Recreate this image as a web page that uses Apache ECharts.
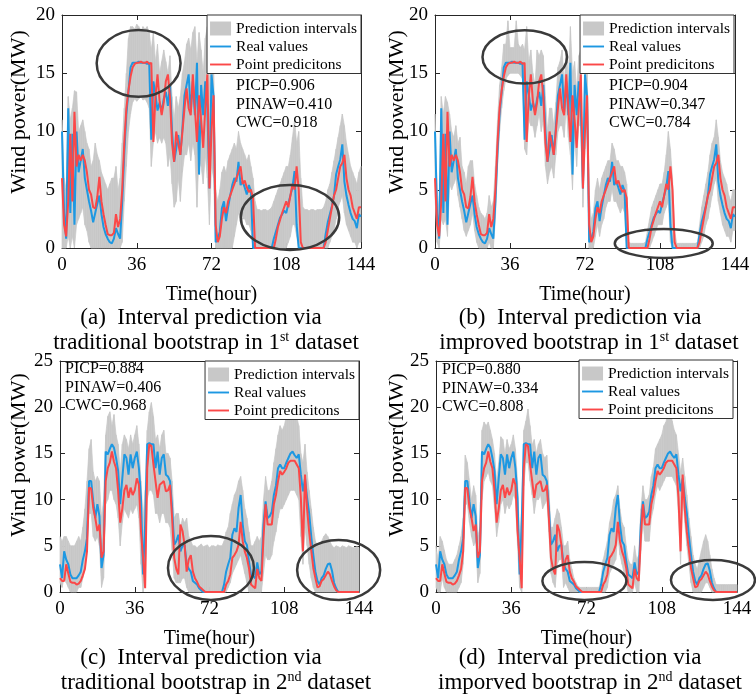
<!DOCTYPE html>
<html><head><meta charset="utf-8">
<script src="https://cdn.jsdelivr.net/npm/echarts@6/dist/echarts.min.js"></script>
<style>html,body{margin:0;padding:0;background:#fff}#c{width:756px;height:700px}</style>
</head><body><div id="c"></div>
<script>
// ---------- data (hour 0..144) ----------
const REAL_1 = [
10, 3, 0.8, 12, 3, 9.8, 2, 10, 6.5, 7.5,
8.5, 6, 5, 4, 3.2, 2.2, 3, 3.8, 4.5, 2.9,
1.8, 1.2, 0.8, 0.5, 0.4, 0.8, 1.7, 1.2, 0.8, 4,
8.2, 11.5, 13.4, 15.5, 15.9, 15.9, 15.9, 16, 15.9, 15.9,
15.9, 15.8, 15.9, 9.3, 14.3, 13.2, 11.8, 12.5, 11.7, 12.8,
13.4, 12.2, 14, 10, 7.4, 8.5, 9.7, 8, 10.3, 13.1,
14, 14.9, 11.7, 14.3, 11.4, 15.9, 6.3, 14, 11.4, 14.3,
12, 5.1, 14.9, 13, 0.5, 0.8, 1.4, 3.4, 4, 2.3,
3.5, 4.5, 5.4, 6, 5.7, 7.4, 5.4, 5.7, 5.2, 4.6,
5.4, 4.9, 0, 0, 0, 0, 0, 0, 0, 0,
0, 0, 0.8, 1.4, 2, 2.6, 2.9, 3.2, 3, 3.8,
4.5, 5.2, 6.6, 2, 0, 0, 0, 0, 0, 0,
0, 0, 0, 0, 0, 0, 0, 1.2, 2.2, 2.9,
3.6, 4.5, 6.3, 7, 7.6, 8.9, 5.7, 4.5, 3.7, 3,
2.5, 2.3, 1.7, 2.9, 2.7];
const PRED_1 = [
6, 2, 1, 4, 9.8, 4, 11.7, 7, 8, 7.5,
8, 7.5, 6.5, 5, 4.6, 3.5, 3.4, 4.4, 6.1, 4,
2.9, 2, 1.2, 1.1, 1.1, 1.3, 2.9, 1.8, 2.5, 5,
9, 12, 13.5, 14.7, 15.5, 15.8, 15.9, 15.9, 16, 15.9,
15.9, 16, 15.8, 15.9, 9.1, 13, 14.9, 12.6, 11.4, 12.5,
14.3, 14.9, 13, 9, 7.4, 10, 9, 8, 10, 12,
13.7, 12, 11.4, 14.9, 12, 9.1, 13.1, 11, 8.6, 12,
14.9, 5.1, 10, 13.1, 2, 0.5, 1, 2.5, 3.5, 3,
4, 4.5, 5, 5.5, 6, 6.5, 7, 5.5, 5.8, 5.2,
4.8, 5, 4.3, 0, 0, 0, 0, 0, 0, 0,
0, 0, 0, 0.8, 1.8, 2.4, 3, 3.5, 4, 3.5,
4.5, 5.5, 5, 7, 5, 0.5, 0, 0, 0, 0,
0, 0, 0, 0, 0, 0, 0, 0.5, 1.5, 2.5,
3.5, 4.5, 5, 6, 7, 7.3, 8, 6, 5, 4.5,
3.5, 3, 2.5, 3.5, 3.5];
const HI_A = [
11, 6, 5, 13, 11, 12, 13.5, 13.4, 10, 10.5,
11, 10, 9, 8.5, 7, 7.5, 9, 8, 7.5, 6.5,
6, 5.5, 5, 5.5, 6, 6, 7, 5, 6, 9,
12, 15, 18, 19, 19, 18.8, 19.2, 19, 18.6, 19,
18.8, 19, 18.5, 17, 18.5, 16, 17.5, 15, 16, 17,
16, 15, 16.5, 13, 11, 13, 12, 13, 15, 16,
17.5, 18, 17, 18.5, 19, 16, 18.5, 17, 15, 18,
19, 14, 18, 16, 5, 4, 5, 6.5, 7, 6.5,
7.5, 8, 8.5, 9, 8.5, 10, 9, 8.5, 8, 7.5,
8, 7, 6, 4, 3.3, 3.3, 3.2, 3.3, 3.3, 3.2,
3.3, 3.5, 4, 4.5, 5, 5.5, 6, 6.5, 7, 7,
8, 9.5, 11, 9, 10, 6, 3.5, 3.3, 3.3, 3.2,
3.3, 3.3, 3.2, 3.3, 3.3, 3.3, 3.5, 4, 5, 5.5,
6.5, 7.5, 8.5, 9.5, 10.5, 11.5, 10.5, 9, 8, 7,
6.5, 6, 5.5, 6.5, 7];
const LO_A = [
0, 0, 0, 1, 0, 1, 0, 2, 2.5, 3,
3.5, 2, 1.5, 0.5, 0, 0, 0, 0, 0, 0,
0, 0, 0, 0, 0, 0, 0, 0, 0, 0.5,
4, 7, 10, 11.5, 12.5, 12.8, 12.6, 12.8, 13, 12.7,
12.8, 12.5, 12, 7, 9, 10, 9, 9.5, 9, 9.5,
9, 7, 8, 5.5, 3.5, 4, 6, 4, 6.5, 8,
8, 9, 7.5, 9, 8, 3.5, 8, 7, 5.5, 8,
6, 2, 7, 6, 0, 0, 0, 0, 0, 0,
0, 0, 0, 1, 2, 3, 2.5, 2.5, 2.5, 2,
2, 1.5, 0, 0, 0, 0, 0, 0, 0, 0,
0, 0, 0, 0, 0, 0, 0, 0, 0, 0.5,
1, 2, 2, 1, 0, 0, 0, 0, 0, 0,
0, 0, 0, 0, 0, 0, 0, 0, 0, 0.5,
1, 1.5, 2.5, 3.5, 4, 4.5, 3, 2, 1.5, 1,
0.5, 0.5, 0, 0.5, 0.5];
const HI_B = [
11.5, 5, 3, 13, 11.5, 13, 12.5, 11.5, 10, 9.5,
10.5, 9, 9.5, 7, 6.5, 5.5, 7, 7.5, 7.5, 5.5,
4.5, 3.5, 3, 2.8, 2.5, 3, 4.5, 3.5, 4, 7,
11, 14, 15.5, 17.5, 17.5, 19.5, 17.2, 17.2, 17.2, 19.5,
17.5, 17.2, 17.5, 17, 19, 16, 17, 15, 14, 17,
16.5, 17, 16.5, 13, 10, 12, 12, 10.5, 12.5, 15.5,
16, 17, 14, 17, 14.5, 19, 15, 16, 13.5, 16.5,
17, 7.5, 16.5, 16, 4.5, 2.5, 3, 5, 6, 5,
6, 6.5, 7, 7.5, 7.5, 9, 8.5, 7.5, 7.5, 7,
7, 6.5, 5.5, 0.5, 0.4, 0.4, 0.4, 0.4, 0.4, 0.4,
0.4, 0.5, 1.5, 2.5, 3.5, 4, 4.5, 5, 5.5, 5.5,
6.5, 8, 10, 8.5, 6, 1.5, 0.4, 0.4, 0.4, 0.4,
0.4, 0.4, 0.4, 0.4, 0.4, 0.4, 0.5, 2, 3.5, 4.5,
5.5, 6.5, 8, 9, 9.5, 11, 9.5, 7.5, 6.5, 6,
5.5, 4.5, 4, 5, 5];
const LO_B = [
4.5, 0.5, 0, 2.5, 2, 2.5, 1, 5.5, 5, 5.5,
6, 4.5, 3.5, 2.5, 1.5, 1, 1.5, 2, 3, 1.5,
0.5, 0, 0, 0, 0, 0, 0.5, 0, 0, 2.5,
7, 10, 12, 13.5, 14.5, 14.8, 15, 15, 15, 15,
15, 14.8, 14.5, 8.5, 8, 11, 10.5, 10.5, 9.5, 10.5,
11.5, 10, 11, 7, 5.5, 6.5, 7, 6, 8, 10,
10.5, 10.5, 9.5, 12, 9.5, 8, 5, 9.5, 7, 10.5,
10.5, 3.5, 8.5, 11, 0, 0, 0, 1, 2, 1,
2, 2.5, 3.5, 4, 4, 5, 4, 4, 3.5, 3,
3.5, 3, 0, 0, 0, 0, 0, 0, 0, 0,
0, 0, 0, 0, 0.5, 1, 1.5, 2, 2, 2,
3, 3.5, 4, 0.5, 0, 0, 0, 0, 0, 0,
0, 0, 0, 0, 0, 0, 0, 0, 0.5, 1,
2, 2.5, 3.5, 4.5, 5.5, 6, 4, 3, 2, 1.5,
1, 1, 0.5, 1.5, 1.5];
const REAL_2 = [
3, 1.5, 4.4, 3.5, 3, 1.9, 1.5, 1.5, 1.5, 1.8,
2.2, 3.5, 4.4, 5.8, 12, 12, 9.8, 8, 9.5, 8.2,
2.6, 4, 15.2, 14.9, 15.5, 16, 15.6, 14.5, 13.1, 9.5,
12.3, 14.9, 14.5, 12.7, 14.9, 13.4, 14.5, 15.2, 13.4, 10.2,
1.9, 7.3, 16, 16.1, 16, 16, 13.4, 15.2, 12.7, 14.5,
14.9, 12.7, 12.5, 12, 9.1, 5.1, 5.5, 6.2, 4.4, 5,
5.1, 3, 2.5, 2.2, 1.2, 1, 0.8, 0.4, 0.2, 0,
0, 0, 0, 0, 0, 0, 0, 0, 0, 0.8,
2.2, 3, 3.7, 6.2, 6.9, 6.5, 9.1, 10.5, 7.3, 5.5,
5.1, 3.3, 1.9, 1.7, 1.5, 3.2, 1.9, 2.2, 7.3, 9.8,
8, 8.2, 8.7, 10.5, 11.5, 13.4, 13.8, 13.4, 13.4, 14,
14.5, 15, 15.2, 14.8, 14.5, 14.9, 12.7, 10.9, 12.3, 10.2,
8.5, 6, 4, 2.2, 1.2, 0.8, 1.5, 1.8, 2.5, 3,
3.1, 2.3, 1, 0.4, 0, 0, 0, 0, 0, 0,
0, 0, 0, 0, 0];
const PRED_2 = [
1.5, 1.2, 1.2, 3, 2, 1.1, 1, 1, 0.8, 0.9,
1.2, 1.8, 2.5, 4.4, 11.3, 11.2, 9.1, 8, 6.6, 7.3,
3.7, 4.4, 12, 13.4, 14, 15.2, 14.1, 13.4, 10.9, 7.5,
9, 11, 11.6, 10.2, 11.3, 10.5, 11, 12.3, 11.6, 6.6,
3.7, 0.4, 13.4, 16, 15.8, 13.8, 12, 10.2, 11.6, 11.8,
12, 10.9, 11, 11.6, 8, 3.7, 2.5, 1.9, 7.3, 6.6,
5.1, 2.2, 3.5, 4, 2.2, 1.5, 1.1, 0.6, 0.4, 0.2,
0, 0, 0, 0, 0, 0, 0, 0, 0, 0,
0.8, 1.2, 1.9, 3.7, 4, 4.4, 5.1, 7.6, 5.5, 4.4,
3.7, 2.6, 0.8, 0.6, 0.4, 2.5, 1.5, 1.2, 5.9, 9.5,
7.3, 7.3, 7.3, 9.5, 10.5, 12, 13.1, 12.7, 13, 13.4,
14, 14.2, 14.2, 14.2, 13.8, 13.4, 10.2, 4.4, 12.7, 9,
6.5, 4.5, 2.6, 1.5, 0.5, 0.6, 1.2, 1.4, 1.8, 2.2,
1.9, 1.2, 0.6, 0.2, 0, 0, 0, 0, 0, 0,
0, 0, 0, 0, 0];
const HI_C = [
6, 5.5, 6, 6, 5.5, 5, 5, 5, 5.5, 6,
5.5, 7, 9, 12, 15.5, 16.5, 13, 12, 12.5, 12,
8, 10, 17, 19, 19.5, 18, 19.2, 17, 16, 13,
16, 17, 16.5, 15.5, 17, 16, 17, 18, 16, 12,
8, 11, 17.5, 19.5, 20.5, 19, 16.5, 17, 15.5, 17,
17.5, 15, 15, 14.5, 12, 8, 8.5, 8.5, 7, 8,
7.5, 8, 6, 5.5, 5, 5, 4.8, 5, 5.2, 4.9,
5, 5.1, 4.8, 5, 5, 4.9, 5.1, 5, 5, 5.5,
6.5, 7, 8.5, 9.5, 10.5, 11, 12, 12.5, 11, 9,
8, 6.5, 5, 5, 5.5, 6, 5.5, 6, 10, 12.5,
11, 11, 12, 14, 15.5, 17, 18, 17.5, 18, 19,
19.5, 20.5, 21, 20, 19, 18, 15, 14, 16, 13,
11, 9, 7, 5.5, 5, 5, 5.5, 6, 6.3, 6,
5.5, 5, 4.8, 5, 4.9, 4.8, 5, 4.9, 4.8, 5,
4.9, 4.8, 4.8, 4.9, 4.8];
const LO_C = [
1, 0.5, 1.5, 1, 0.5, 0, 0, 0, 0, 0.5,
0.5, 1.5, 2.5, 6, 8.5, 8.5, 6, 5.5, 6, 5,
0.5, 1.5, 9.5, 10, 11, 11, 10, 9.5, 8, 5,
7.5, 9, 8.5, 8, 9, 8.5, 9, 9.5, 8, 3,
0, 2, 10, 11, 11, 10.5, 8.5, 8.5, 7.5, 8.5,
8.5, 7.5, 7.5, 7, 4.5, 1.5, 1, 1, 1, 1.5,
1.5, 0.5, 0, 0, 0, 0, 0, 0, 0, 0,
0, 0, 0, 0, 0, 0, 0, 0, 0, 0,
0, 0.5, 1, 2, 2.5, 3, 3.5, 4, 3, 2,
1, 0, 0, 0, 0, 0, 0, 0, 2, 4,
3.5, 3.5, 4, 5.5, 6.5, 8, 9, 9, 9.5, 10,
10.5, 11, 11, 11, 10.5, 10, 6, 3, 7, 5,
3, 1.5, 0.5, 0, 0, 0, 0, 0, 0, 0,
0, 0, 0, 0, 0, 0, 0, 0, 0, 0,
0, 0, 0, 0, 0];
const HI_D = [
5, 3.5, 6, 5.5, 4.5, 3.5, 3, 3, 3, 3.5,
4, 5, 6, 8, 14.8, 14, 12, 10, 11.5, 10.5,
6, 7, 17.5, 18.4, 18, 18.4, 17.5, 16.5, 15, 12,
14, 16.8, 16.5, 15, 16.5, 15.5, 16, 17, 15.5, 12,
5.5, 9, 17.5, 18.5, 19.8, 18, 15.9, 16.5, 15, 16,
16.5, 15, 14.5, 14.8, 11, 7, 7, 8, 9, 8.5,
7, 5, 5, 5.5, 3.5, 2.5, 1.5, 1, 0.6, 0.5,
0.5, 0.5, 0.5, 0.5, 0.5, 0.5, 0.5, 0.5, 0.5, 1.5,
3.5, 4.5, 5.5, 7.5, 8.5, 10, 10.5, 11.5, 9, 7.5,
7, 5, 3.5, 3, 3, 5, 3.5, 4, 9, 11.5,
10, 10, 10.5, 12.5, 13.5, 15.5, 16, 16.5, 17, 18,
18.4, 19.5, 20, 18.5, 17.5, 17, 15, 13, 14.5, 12.5,
10.5, 8, 6, 4, 3, 2.5, 3.5, 4.5, 5.5, 6.2,
5.5, 4, 2.5, 1.5, 0.8, 0.8, 0.8, 0.8, 0.8, 0.8,
0.8, 0.8, 0.8, 0.8, 0.8];
const LO_D = [
0.5, 0, 0, 1.5, 0.5, 0, 0, 0, 0, 0,
0, 0.5, 1, 3, 9.5, 9.5, 7.5, 6, 5, 5.5,
1, 2, 10, 12, 12.5, 13, 12, 11.5, 9, 6,
7.5, 9.5, 10, 8.5, 9.5, 9, 9.5, 10.5, 10, 5,
0.5, 0, 11.5, 14, 14, 12, 10.5, 8.5, 10, 10,
10.5, 9, 9.5, 10, 6.5, 2, 1, 0.5, 3, 3.5,
3.5, 0.5, 1, 0.5, 0, 0, 0, 0, 0, 0,
0, 0, 0, 0, 0, 0, 0, 0, 0, 0,
0, 0, 0.5, 2, 2.5, 3, 3.5, 6, 4, 3,
2, 1, 0, 0, 0, 1, 0, 0, 4.5, 7.5,
5.5, 5.5, 5.5, 8, 9, 10.5, 11.5, 11, 11.5, 12,
12.5, 12.5, 12.5, 12.5, 12, 11.5, 8.5, 3, 10.5, 7.5,
5, 3, 1, 0, 0, 0, 0, 0, 0.5, 1,
1, 0.5, 0, 0, 0, 0, 0, 0, 0, 0,
0, 0, 0, 0, 0];

const X_TICKS = [0, 36, 72, 108, 144];
const METRICS = [
  ['PICP=0.906', 'PINAW=0.410', 'CWC=0.918'],
  ['PICP=0.904', 'PINAW=0.347', 'CWC=0.784'],
  ['PICP=0.884', 'PINAW=0.406', 'CWC=0.968'],
  ['PICP=0.880', 'PINAW=0.334', 'CWC=0.808']
];
const CAPTION_1 = ['(a)  Interval prediction via', '(b)  Interval prediction via',
                   '(c)  Interval prediction via', '(d)  Interval prediction via'];
const CAPTION_2 = [['traditional bootstrap in 1', 'st', ' dataset'],
                   ['improved bootstrap in 1', 'st', ' dataset'],
                   ['traditional bootstrap in 2', 'nd', ' dataset'],
                   ['imporved bootstrap in 2', 'nd', ' dataset']];
// highlighted regions: [panel, centre hour, centre MW, half-width hours, half-height MW]
const ELLIPSES = [
  [0, 36.9, 15.85, 20.2, 2.86], [0, 109.8, 2.62, 23.7, 2.79],
  [1, 43.1, 16.4, 20.3, 2.29], [1, 109.8, 0.39, 23.5, 1.24],
  [2, 72.7, 2.6, 20.7, 3.46], [2, 134.2, 2.38, 20.0, 3.25],
  [3, 71.0, 1.19, 20.1, 2.06], [3, 132.5, 1.3, 20.1, 2.16]
];

// ---------- layout ----------
const FONT = "'Liberation Serif','Times New Roman',serif";
const AX = '#262626';
const BLUE = '#1d98e2', RED = '#fb4848', GRAY = '#c8c8c8';
const PANELS = [
  {grid:{left:62, top:15, width:299, height:233}, ymax:20, real:REAL_1, pred:PRED_1, lo:LO_A, hi:HI_A,
   legend:{right:395, top:15}, metric:{x:236, y:86}, ylab:{x:19, y:112}, cap:{x1:201, x2:206, y:318}},
  {grid:{left:435, top:15, width:300, height:233}, ymax:20, real:REAL_1, pred:PRED_1, lo:LO_B, hi:HI_B,
   legend:{right:22, top:15}, metric:{x:609, y:86}, ylab:{x:397, y:112}, cap:{x1:580, x2:589, y:318}},
  {grid:{left:60, top:361, width:299, height:231}, ymax:25, real:REAL_2, pred:PRED_2, lo:LO_C, hi:HI_C,
   legend:{right:397, top:361}, metric:{x:65, y:369}, ylab:{x:19, y:455}, cap:{x1:201, x2:216, y:658}},
  {grid:{left:436, top:361, width:301, height:231}, ymax:25, real:REAL_2, pred:PRED_2, lo:LO_D, hi:HI_D,
   legend:{right:23, top:360}, metric:{x:442, y:370}, ylab:{x:397, y:455}, cap:{x1:580, x2:590, y:658}}
];

function bandItem(params, api) {
  const i = api.value(0);
  const a = api.coord([i, api.value(1)]), b = api.coord([i, api.value(2)]);
  const c = api.coord([i + 1, api.value(4)]), d = api.coord([i + 1, api.value(3)]);
  return {type:'polygon', shape:{points:[a, b, c, d]},
    style:{fill:GRAY, stroke:GRAY, lineWidth:0.7}};
}

const grids = [], xAxes = [], yAxes = [], series = [], legends = [];
const lineIcon = 'path://M0,0H22V2H0Z';
PANELS.forEach((p, g) => {
  grids.push(Object.assign({containLabel:false}, p.grid));
  const axLine = {show:true, onZero:false, lineStyle:{color:AX, width:1}};
  const tick = {show:true, inside:true, length:5, lineStyle:{color:AX, width:1}};
  xAxes.push({gridIndex:g, type:'value', position:'bottom', min:0, max:144, interval:36,
    axisLine:axLine, axisTick:tick, splitLine:{show:false},
    axisLabel:{color:'#000', fontFamily:FONT, fontSize:19, margin:8,
      formatter:v => X_TICKS.includes(v) ? String(v) : ''},
    name:'Time(hour)', nameLocation:'middle', nameGap:37,
    nameTextStyle:{color:'#000', fontFamily:FONT, fontSize:20}});
  xAxes.push({gridIndex:g, type:'value', position:'top', min:0, max:144, interval:36,
    axisLine:axLine, axisTick:tick, axisLabel:{show:false}, splitLine:{show:false}});
  yAxes.push({gridIndex:g, type:'value', position:'left', min:0, max:p.ymax, interval:5,
    axisLine:axLine, axisTick:tick, splitLine:{show:false},
    axisLabel:{color:'#000', fontFamily:FONT, fontSize:19, margin:7}});
  yAxes.push({gridIndex:g, type:'value', position:'right', min:0, max:p.ymax, interval:5,
    axisLine:axLine, axisTick:tick, axisLabel:{show:false}, splitLine:{show:false}});
  const xi = 2 * g, yi = 2 * g;
  series.push({type:'custom', name:'Prediction intervals', xAxisIndex:xi, yAxisIndex:yi,
    data:p.lo.slice(0, -1).map((v, i) => [i, v, p.hi[i], p.lo[i + 1], p.hi[i + 1]]),
    encode:{x:0, y:[1, 2, 3, 4]}, itemStyle:{color:GRAY}, renderItem:bandItem,
    silent:true, z:1});
  series.push({type:'line', name:'Real values', xAxisIndex:xi, yAxisIndex:yi,
    data:p.real.map((v, i) => [i, v]), symbol:'none', color:BLUE, lineStyle:{width:2, color:BLUE}, z:3});
  series.push({type:'line', name:'Point predicitons', xAxisIndex:xi, yAxisIndex:yi,
    data:p.pred.map((v, i) => [i, v]), symbol:'none', color:RED, lineStyle:{width:2, color:RED}, z:4});
  legends.push({orient:'vertical', right:p.legend.right, top:p.legend.top, z:20,
    backgroundColor:'#fff', borderColor:'#333', borderWidth:1, borderRadius:0,
    padding:[5.5, 4, 1, 3], itemGap:2, itemWidth:21, itemHeight:14, symbolKeepAspect:true,
    selectedMode:false,
    textStyle:{fontFamily:FONT, fontSize:15.5, color:'#000'},
    data:[{name:'Prediction intervals', icon:'rect'},
          {name:'Real values', icon:lineIcon},
          {name:'Point predicitons', icon:lineIcon}]});
});

const chart = echarts.init(document.getElementById('c'), null, {renderer:'canvas'});
chart.setOption({
  animation:false, backgroundColor:'#fff',
  grid:grids, xAxis:xAxes, yAxis:yAxes, series:series, legend:legends
});

// ---------- annotations ----------
const gfx = [];
PANELS.forEach((p, g) => {
  METRICS[g].forEach((t, k) => gfx.push({type:'text', z:30,
    style:{x:p.metric.x, y:p.metric.y + k * 18.5, text:t, fill:'#000', font:'16px ' + FONT,
      align:'left', verticalAlign:'middle', textAlign:'left', textVerticalAlign:'middle'}}));
  gfx.push({type:'text', z:30, x:p.ylab.x, y:p.ylab.y, rotation:Math.PI / 2,
    style:{x:0, y:0, text:'Wind power(MW)', fill:'#000', font:'22px ' + FONT,
      align:'center', verticalAlign:'middle', textAlign:'center', textVerticalAlign:'middle'}});
  gfx.push({type:'text', z:30,
    style:{x:p.cap.x1, y:p.cap.y, text:CAPTION_1[g], fill:'#000', font:'23px ' + FONT,
      align:'center', verticalAlign:'middle', textAlign:'center', textVerticalAlign:'middle'}});
  const c2 = CAPTION_2[g];
  gfx.push({type:'text', z:30,
    style:{x:p.cap.x2, y:p.cap.y + 25,
      text:'{n|' + c2[0] + '}{s|' + c2[1] + '}{n|' + c2[2] + '}',
      align:'center', verticalAlign:'middle', textAlign:'center', textVerticalAlign:'middle',
      rich:{n:{fontFamily:FONT, fontSize:23, lineHeight:26, fill:'#000', color:'#000'},
            s:{fontFamily:FONT, fontSize:14, lineHeight:15, verticalAlign:'top', fill:'#000', color:'#000'}}}});
});
ELLIPSES.forEach(e => {
  const finder = {xAxisIndex:2 * e[0], yAxisIndex:2 * e[0]};
  const c = chart.convertToPixel(finder, [e[1], e[2]]);
  const r = chart.convertToPixel(finder, [e[1] + e[3], e[2] + e[4]]);
  gfx.push({type:'ellipse', z:40, silent:true,
    shape:{cx:c[0], cy:c[1], rx:Math.abs(r[0] - c[0]), ry:Math.abs(c[1] - r[1])},
    style:{fill:null, stroke:'#3a3a3a', lineWidth:2.5}});
});
chart.setOption({graphic:gfx});
</script></body></html>
